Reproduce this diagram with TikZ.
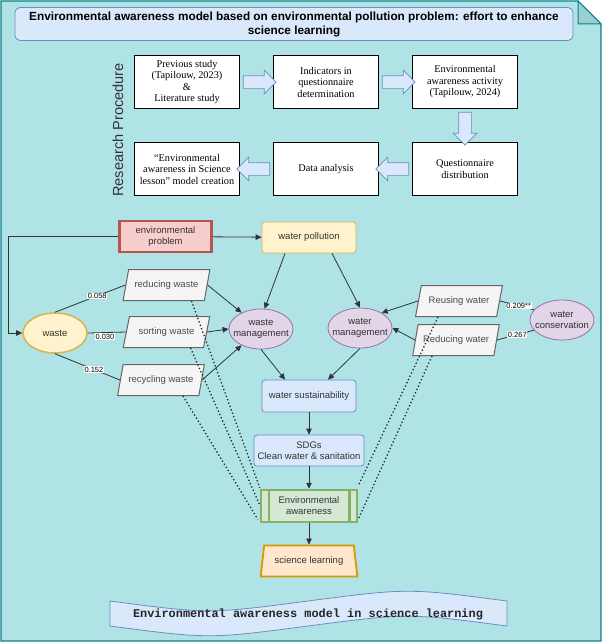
\documentclass[tikz,border=0pt]{standalone}
\usepackage{fontspec}
\setmainfont{Liberation Sans}
\newfontfamily\boxserif{Liberation Serif}
\newfontfamily\bannermono{Liberation Mono}
\usetikzlibrary{arrows.meta,shapes.geometric,shapes.arrows,calc}

\definecolor{bgteal}{HTML}{B0E3E6}
\definecolor{bgline}{HTML}{0E8088}
\definecolor{foldfill}{HTML}{9CCFD2}
\definecolor{bluefill}{HTML}{DAE8FC}
\definecolor{blueline}{HTML}{6C8EBF}
\definecolor{redfill}{HTML}{F8CECC}
\definecolor{redline}{HTML}{B85450}
\definecolor{yellowfill}{HTML}{FFF2CC}
\definecolor{yellowline}{HTML}{D6B656}
\definecolor{purplefill}{HTML}{E1D5E7}
\definecolor{purpleline}{HTML}{9673A6}
\definecolor{greenfill}{HTML}{D5E8D4}
\definecolor{greenline}{HTML}{82B366}
\definecolor{orangefill}{HTML}{FFE6CC}
\definecolor{orangeline}{HTML}{D79B00}
\definecolor{greyfill}{HTML}{F5F5F5}
\definecolor{greyline}{HTML}{666666}
\definecolor{inktext}{HTML}{333333}

\tikzset{
  procbox/.style={draw=black, fill=white, line width=0.8pt, minimum width=105pt,
    minimum height=53pt, align=center, inner sep=1pt,
    font=\boxserif\fontsize{10.3}{11.5}\selectfont},
  blockarrow/.style={single arrow, draw=blueline, fill=bluefill, line width=0.7pt,
    minimum height=33pt, minimum width=23pt, single arrow head extend=5.5pt, inner sep=6pt},
  diag/.style={align=center, text=inktext, font=\fontsize{9.5}{11}\selectfont, inner sep=1pt},
  bluebox/.style={diag, draw=blueline, fill=bluefill, rounded corners=3pt, line width=0.8pt},
  oval/.style={diag, ellipse, minimum width=64pt, minimum height=40pt, inner xsep=-7pt, inner ysep=0pt},
  itembox/.style={diag, trapezium, trapezium left angle=66, trapezium right angle=114,
    trapezium stretches=true, draw=greyline, fill=greyfill, line width=1pt,
    minimum width=87pt, minimum height=31pt, text=black!70},
  lbl/.style={fill=white, inner sep=0.6pt, font=\fontsize{7.5}{8}\selectfont},
  arr/.style={draw=inktext, line width=0.8pt, -{Triangle[length=6pt,width=5.5pt]}},
  plain/.style={draw=inktext, line width=0.8pt},
  dots/.style={draw=black!85, line width=1.3pt, dash pattern=on 1.3pt off 2.3pt}
}

\begin{document}
\begin{tikzpicture}[x=1pt,y=-1pt]
\useasboundingbox (0,0) rectangle (602,642);
% background sheet with folded corner
\draw[bgline, fill=bgteal, line width=1.2pt] (1,1) -- (578,1) -- (601,24) -- (601,641) -- (1,641) -- cycle;
\draw[bgline, fill=foldfill, line width=1pt] (578,1) -- (578,24) -- (601,24) -- cycle;

\node[draw=blueline, fill=bluefill, rounded corners=5pt, line width=0.8pt, minimum width=558pt,
  minimum height=33pt, align=center, font=\bfseries\fontsize{11.8}{14}\selectfont] (title) at (294,24)
  {Environmental awareness model based on environmental pollution problem: effort to enhance\\science learning};

% research procedure
\node[rotate=90, text=inktext, font=\fontsize{14.6}{16}\selectfont] (rproc) at (118,130) {Research Procedure};
\node[procbox] (prev) at (187,82) {Previous study\\(Tapilouw, 2023)\\\&\\Literature study};
\node[procbox] (indic) at (326,82) {Indicators in\\questionnaire\\determination};
\node[procbox] (activ) at (465,82) {Environmental\\awareness activity\\(Tapilouw, 2024)};
\node[procbox] (model) at (187,169) {“Environmental\\awareness in Science\\lesson” model creation};
\node[procbox] (anal) at (326,169) {Data analysis};
\node[procbox] (quest) at (465,169) {Questionnaire\\distribution};
\node[blockarrow] at ($(prev.east)!0.5!(indic.west)$) {};
\node[blockarrow] at ($(indic.east)!0.5!(activ.west)$) {};
\node[blockarrow, shape border rotate=270] at ($(activ.south)!0.5!(quest.north)$) {};
\node[blockarrow, shape border rotate=180] at ($(quest.west)!0.5!(anal.east)$) {};
\node[blockarrow, shape border rotate=180] at ($(anal.west)!0.5!(model.east)$) {};

% model
\node[diag, draw=redline, fill=redfill, line width=2.5pt, minimum width=92pt, minimum height=31pt] (envp) at (165.5,236.5) {environmental\\problem};
\node[diag, draw=yellowline, fill=yellowfill, rounded corners=3pt, line width=0.8pt, minimum width=94pt, minimum height=31pt] (wpol) at (309,237.5) {water pollution};
\node[oval, draw=yellowline, fill=yellowfill, line width=1.6pt] (waste) at (55,333) {waste};
\node[itembox] (redw) at (166.5,285) {reducing waste};
\node[itembox] (sortw) at (166.5,332) {sorting waste};
\node[itembox] (recw) at (161,380) {recycling waste};
\node[oval, draw=purpleline, fill=purplefill, line width=0.8pt] (wastem) at (261,329) {waste\\management};
\node[oval, draw=purpleline, fill=purplefill, line width=0.8pt] (waterm) at (360,328) {water\\management};
\node[itembox] (reusew) at (459,301) {Reusing water};
\node[itembox] (reducew) at (456,340) {Reducing water};
\node[oval, draw=purpleline, fill=purplefill, line width=0.8pt] (wcons) at (562,320) {water\\conservation};
\node[bluebox, minimum width=94pt, minimum height=32pt] (wsus) at (309,396) {water sustainability};
\node[bluebox, minimum width=110pt, minimum height=31pt] (sdg) at (309,450.5) {SDGs\\Clean water \& sanitation};
\node[diag, draw=greenline, fill=greenfill, line width=2.5pt, minimum width=96pt, minimum height=32pt] (envaw) at (309,506) {Environmental\\awareness};
\draw[greenline, line width=2.5pt] ($(envaw.north west)+(9,0)$) -- ($(envaw.south west)+(9,0)$)
  ($(envaw.north east)+(-9,0)$) -- ($(envaw.south east)+(-9,0)$);
\node[diag, trapezium, trapezium left angle=76, trapezium right angle=76, trapezium stretches=true,
  draw=orangeline, fill=orangefill, line width=1.8pt, minimum width=97pt, minimum height=31pt] (scil) at (309,561) {science learning};

% connectors
\draw[arr] (envp.west) -- ++(-110,0) |- (waste.west);
\draw[arr] (envp) -- (wpol);
\draw[arr] ($(wpol.south)+(-24,0)$) -- (wastem.80);
\draw[arr] ($(wpol.south)+(23,0)$) -- (waterm.north);
\draw[plain] (waste.north) -- node[lbl, pos=0.6] {0.058} (redw.west);
\draw[plain] (waste.east) -- node[lbl, pos=0.45, yshift=-4pt] {0.030} (sortw.west);
\draw[plain] (waste.south) -- node[lbl, pos=0.6] {0.152} (recw.west);
\draw[arr] (redw.east) -- (wastem.140);
\draw[arr] (sortw.east) -- (wastem.west);
\draw[arr] (recw.east) -- (wastem.220);
\draw[arr] (reusew.west) -- (waterm.35);
\draw[arr] (reducew.west) -- (waterm.east);
\draw[plain] (wcons.160) -- node[lbl, pos=0.45] {0.209**} (reusew.east);
\draw[plain] (wcons.200) -- node[lbl, pos=0.45] {0.267} (reducew.east);
\draw[arr] (wastem.south) -- ($(wsus.north)+(-24,0)$);
\draw[arr] (waterm.south) -- ($(wsus.north)+(19,0)$);
\draw[arr] (wsus) -- (sdg);
\draw[arr] (sdg) -- (envaw);
\draw[arr] (envaw) -- (scil);
\draw[dots] ($(redw.south)+(25,0)$) -- ($(envaw.north west)+(0,-1)$);
\draw[dots] ($(sortw.south)+(24,0)$) -- ($(envaw.west)+(0,-1)$);
\draw[dots] ($(recw.south)+(22,0)$) -- ($(envaw.south west)+(-2,-4)$);
\draw[dots] ($(reusew.south)+(-21,0)$) -- ($(envaw.north east)+(0,-3)$);
\draw[dots] ($(reducew.south)+(-24,0)$) -- ($(envaw.south east)+(0,-4)$);

% banner
\draw[blueline, fill=bluefill, line width=0.8pt] (110,601) .. controls (209,614) .. (308,601) .. controls (408,588) .. (507,601)
  -- (507,626) .. controls (408,613) .. (308,626) .. controls (209,639) .. (110,626) -- cycle;
\node[font=\bannermono\bfseries\fontsize{11.9}{13}\selectfont, text=black!85] (banner) at (308,614) {Environmental awareness model in science learning};
\end{tikzpicture}
\end{document}
